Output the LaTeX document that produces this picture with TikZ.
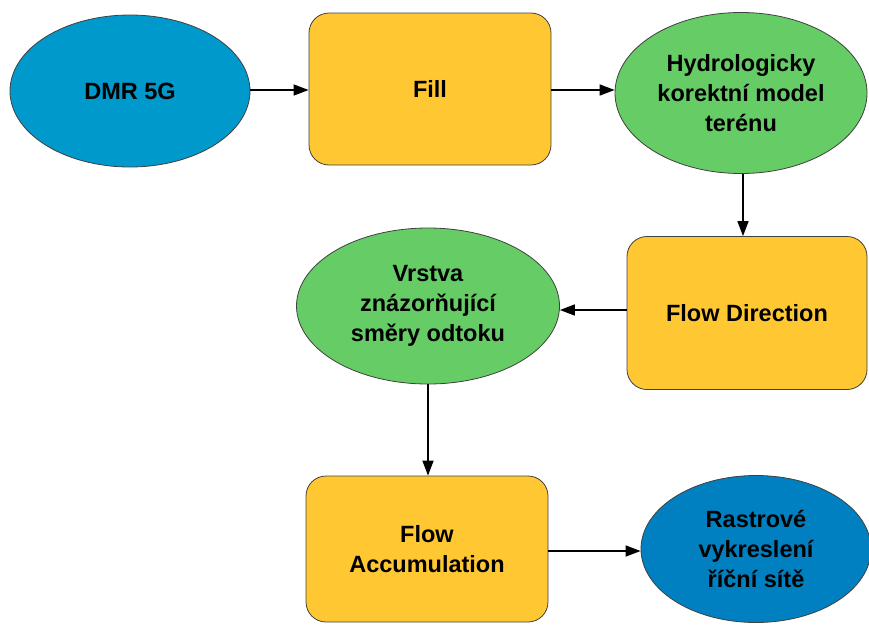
\documentclass[tikz,border=0pt]{standalone}
\usepackage{fontspec}
\setmainfont{Liberation Sans}
\usetikzlibrary{shapes.geometric,arrows.meta}
\definecolor{inblue}{RGB}{0,153,204}
\definecolor{outblue}{RGB}{0,128,192}
\definecolor{toolyellow}{RGB}{255,200,50}
\definecolor{datagreen}{RGB}{102,204,102}
\begin{document}
\begin{tikzpicture}[x=1pt,y=-1pt,
  every node/.style={font=\fontsize{23.5}{30}\selectfont\bfseries, align=center, inner sep=0pt},
  dataell/.style={ellipse, draw=black!75, line width=0.8pt},
  toolbox/.style={rectangle, rounded corners=20pt, draw=black!75, line width=0.8pt, fill=toolyellow, minimum width=242pt, minimum height=152pt},
  conn/.style={line width=1.6pt, -{Triangle[length=15pt,width=11pt]}}
]
\useasboundingbox (0,0) rectangle (869,624);
\node[dataell, fill=inblue, minimum width=240pt, minimum height=152pt] (dmr) at (130,91) {DMR 5G};
\node[toolbox] (fill) at (430,89) {Fill};
\node[dataell, fill=datagreen, minimum width=252pt, minimum height=161pt] (hydro) at (741,93) {Hydrologicky\\korektní model\\terénu};
\node[toolbox, minimum width=240pt, minimum height=153pt] (fd) at (747,313) {Flow Direction};
\node[dataell, fill=datagreen, minimum width=263pt, minimum height=156pt] (vr) at (428,306) {Vrstva\\znázorňující\\směry odtoku};
\node[toolbox, minimum height=146pt] (fa) at (427,549) {Flow\\Accumulation};
\node[dataell, fill=outblue, minimum width=230pt, minimum height=147pt] (ras) at (756,549) {Rastrové\\vykreslení\\říční sítě};
\coordinate (c1) at (250,90);
\draw[conn] (dmr.east |- c1) -- (fill.west |- c1);
\draw[conn] (fill.east |- c1) -- (hydro.west |- c1);
\draw[conn] (hydro.south -| 743,0) -- (fd.north -| 743,0);
\coordinate (c2) at (0,310);
\draw[conn] (fd.west |- c2) -- (vr.east |- c2);
\draw[conn] (vr.south) -- (fa.north -| vr.south);
\coordinate (c3) at (0,551);
\draw[conn] (fa.east |- c3) -- (ras.west |- c3);
\end{tikzpicture}
\end{document}
